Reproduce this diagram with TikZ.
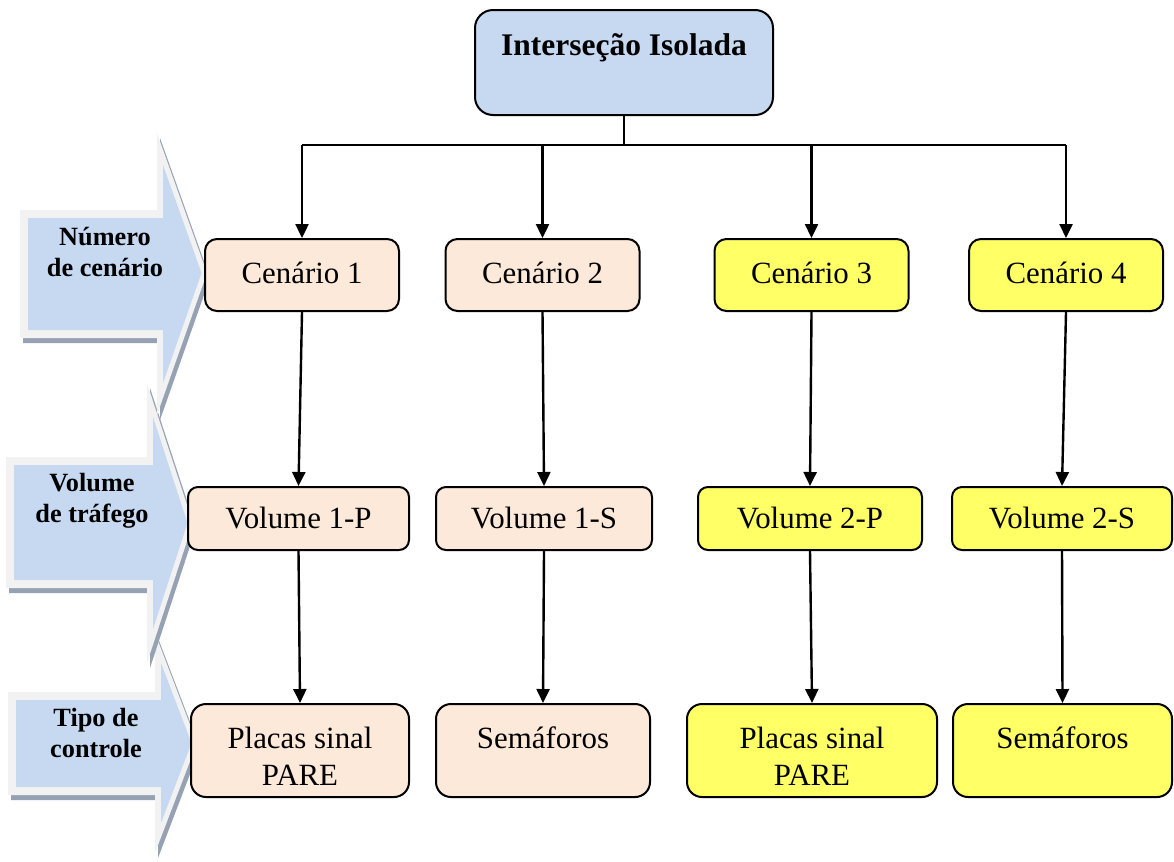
\documentclass[tikz,border=0pt]{standalone}
\usepackage{fontspec}
\setmainfont{Liberation Serif}
\usetikzlibrary{arrows.meta}

\definecolor{headblue}{HTML}{C6D9F1}
\definecolor{peach}{HTML}{FDE9D9}
\definecolor{lemon}{HTML}{FFFF66}
\definecolor{rimgray}{HTML}{F2F2F2}
\definecolor{shadegray}{HTML}{96A2B4}

\newcommand\boxfont{\fontsize{15.5}{18.5}\selectfont}
\newcommand\topfont{\fontsize{15.8}{18.5}\selectfont\bfseries}
\newcommand\sidefont{\fontsize{13.2}{15.5}\selectfont\bfseries}
% taller first line, so two-line texts sit a little lower in their boxes
\newcommand\lift{\rule{0pt}{16.7bp}}

% left block arrow: shaft left, shaft top, shaft bottom, head base x,
% head top, head bottom, tip x, tip y
\newcommand\sidearrowpath[8]{(#1,#2) -- (#4,#2) -- (#4,#5) -- (#7,#8) -- (#4,#6) -- (#4,#3) -- (#1,#3) -- cycle}

\tikzset{
  box/.style={draw, line width=1bp, align=center, inner sep=0pt, font=\boxfont},
  peachbox/.style={box, fill=peach},
  lemonbox/.style={box, fill=lemon},
  scenbox/.style={minimum width=97bp, minimum height=36bp, rounded corners=6bp, text depth=0.25em},
  volbox/.style={minimum height=31.5bp, rounded corners=5bp},
  ctrlbox/.style={minimum height=46.5bp, rounded corners=7.5bp},
  sidelabel/.style={align=center, inner sep=0pt, font=\sidefont},
  conn/.style={line width=1.2bp, -{Triangle[width=6.5bp,length=7bp]}},
  busline/.style={line width=1.2bp},
}

\begin{document}
\begin{tikzpicture}[x=0.5bp, y=-0.5bp]
\useasboundingbox (0,0) rectangle (1174,861);

% side block arrows (lowest first, so upper heads lie on top)
\begin{scope}[shift={(3,5)}]
  \fill[shadegray] \sidearrowpath{8}{692}{795}{155}{633}{853}{197}{743};
\end{scope}
\fill[rimgray] \sidearrowpath{8}{692}{795}{155}{633}{853}{197}{743};
\fill[headblue] \sidearrowpath{16}{700}{787}{161}{663}{823}{191.5}{743};

\begin{scope}[shift={(3,5)}]
  \fill[shadegray] \sidearrowpath{6}{457}{588}{147}{383}{663}{193}{523};
\end{scope}
\fill[rimgray] \sidearrowpath{6}{457}{588}{147}{383}{663}{193}{523};
\fill[headblue] \sidearrowpath{14}{465}{580}{153}{417}{629}{187.5}{523};

\begin{scope}[shift={(3,5)}]
  \fill[shadegray] \sidearrowpath{20}{210}{338}{157}{133}{415}{207}{273};
\end{scope}
\fill[rimgray] \sidearrowpath{20}{210}{338}{157}{133}{415}{207}{273};
\fill[headblue] \sidearrowpath{28}{218}{330}{163}{165}{383}{201.5}{273};

\node[sidelabel] (l1) at (105,252) {Número\\de cenário};
\node[sidelabel] (l2) at (92,501) {Volume\\de tráfego};
\node[sidelabel] (l3) at (96,733) {Tipo de\\controle};

% root
\node[box, fill=headblue, font=\topfont, minimum width=149bp, minimum height=52.5bp,
      rounded corners=9bp] (top) at (624,62.5) {Interseção Isolada\\\mbox{}};

% scenarios
\node[peachbox, scenbox] (c1) at (302,275) {Cenário 1};
\node[peachbox, scenbox] (c2) at (542.5,275) {Cenário 2};
\node[lemonbox, scenbox] (c3) at (811.5,275) {Cenário 3};
\node[lemonbox, scenbox] (c4) at (1066,275) {Cenário 4};

% traffic volumes
\node[peachbox, volbox, minimum width=110.5bp] (v1) at (298.5,518.5) {Volume 1-P};
\node[peachbox, volbox, minimum width=108bp] (v2) at (544,518.5) {Volume 1-S};
\node[lemonbox, volbox, minimum width=112bp] (v3) at (810,518.5) {Volume 2-P};
\node[lemonbox, volbox, minimum width=110bp] (v4) at (1062,518.5) {Volume 2-S};

% control types
\node[peachbox, ctrlbox, minimum width=109bp] (p1) at (300,750.5) {\lift Placas sinal\\PARE};
\node[peachbox, ctrlbox, minimum width=107bp] (s1) at (543,750.5) {\lift Semáforos\\\mbox{}};
\node[lemonbox, ctrlbox, minimum width=125bp] (p2) at (812,750.5) {\lift Placas sinal\\PARE};
\node[lemonbox, ctrlbox, minimum width=109.5bp] (s2) at (1062.5,750.5) {\lift Semáforos\\\mbox{}};

% distribution bus
\coordinate (bus) at (624,145);
\draw[busline] (top.south) -- (top.south |- bus);
\draw[busline] (c1.north |- bus) -- (c4.north |- bus);
\foreach \c in {c1,c2,c3,c4}
  \draw[conn] (\c.north |- bus) -- (\c.north);

% columns
\draw[conn] (c1.south) -- (v1.north);
\draw[conn] (c2.south) -- (v2.north);
\draw[conn] (c3.south) -- (v3.north);
\draw[conn] (c4.south) -- (v4.north);
\draw[conn] (v1.south) -- (p1.north);
\draw[conn] (v2.south) -- (s1.north);
\draw[conn] (v3.south) -- (p2.north);
\draw[conn] (v4.south) -- (s2.north);
\end{tikzpicture}
\end{document}
